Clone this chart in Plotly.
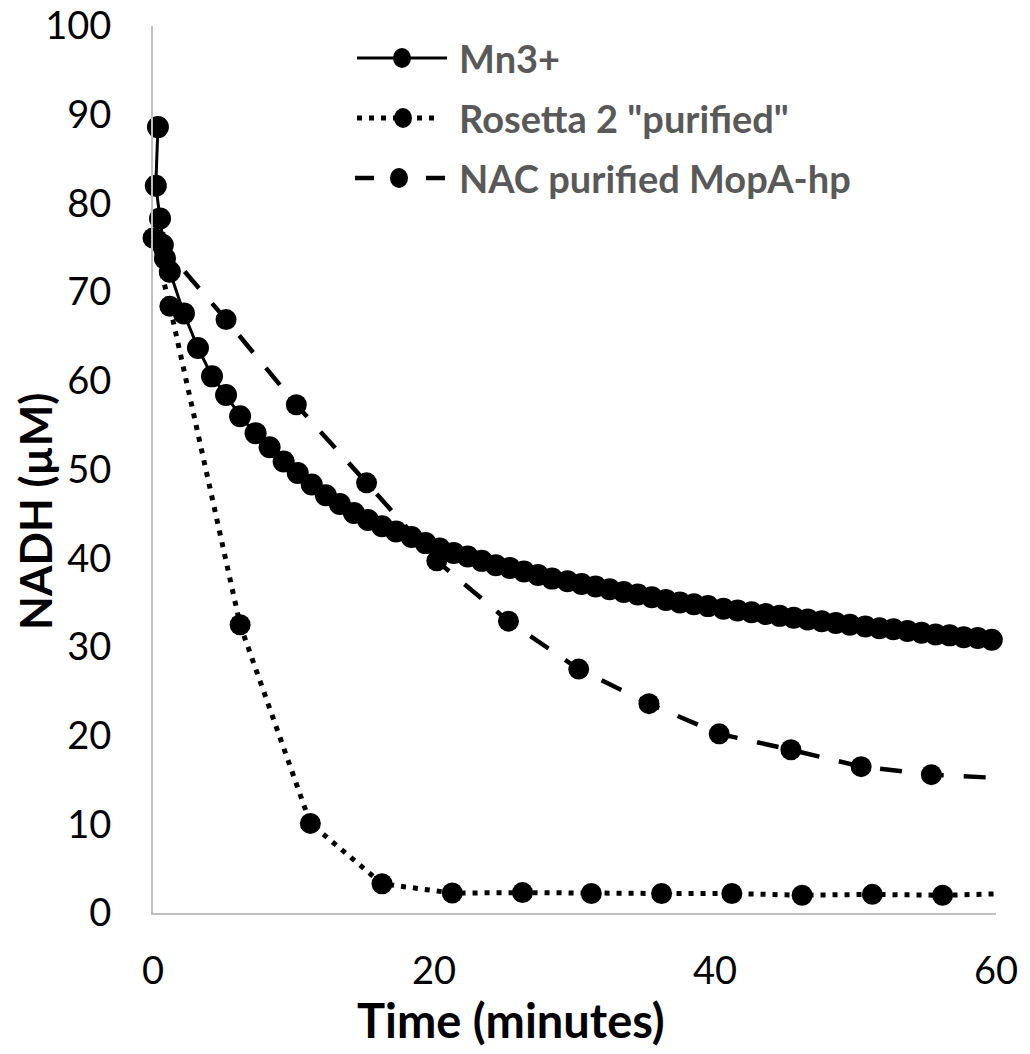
import plotly.graph_objects as go

# values (time in minutes, NADH in µM)
mn_time = [0.35, 0.2, 0.5, 0.7, 0.85,
           1.2, 2.2, 3.2, 4.2, 5.2, 6.2, 7.3, 8.3, 9.3, 10.3, 11.3, 12.3, 13.3, 14.3, 15.3,
           16.3, 17.3, 18.4, 19.4, 20.4, 21.4, 22.4, 23.4, 24.4, 25.4, 26.4, 27.4, 28.4,
           29.5, 30.5, 31.5, 32.5, 33.5, 34.5, 35.5, 36.5, 37.5, 38.5, 39.5, 40.6, 41.6,
           42.6, 43.6, 44.6, 45.6, 46.6, 47.6, 48.6, 49.6, 50.7, 51.7, 52.7, 53.7, 54.7,
           55.7, 56.7, 57.7, 58.7, 59.7]
mn_nadh = [88.6, 82.0, 78.3, 75.3, 73.8,
           72.3, 67.6, 63.7, 60.5, 58.4, 56.0, 54.1, 52.5, 50.9, 49.6, 48.3, 47.1, 46.1, 45.1, 44.3,
           43.6, 43.0, 42.4, 41.7, 41.1, 40.6, 40.2, 39.7, 39.2, 38.9, 38.5, 38.1, 37.7,
           37.4, 37.1, 36.8, 36.5, 36.2, 35.9, 35.6, 35.3, 35.0, 34.8, 34.6, 34.3, 34.1,
           33.9, 33.7, 33.5, 33.3, 33.1, 32.9, 32.7, 32.5, 32.3, 32.1, 32.0, 31.8, 31.6,
           31.4, 31.3, 31.1, 31.0, 30.8]

ros_time = [0.0, 1.2, 6.2, 11.2, 16.3, 21.3, 26.3, 31.2, 36.2, 41.2, 46.2, 51.2, 56.2, 61.2]
ros_nadh = [76.1, 68.4, 32.5, 10.1, 3.3, 2.25, 2.3, 2.2, 2.2, 2.2, 2.0, 2.1, 2.0, 2.2]

nac_time = [0.3, 5.2, 10.2, 15.2, 20.2, 25.3, 30.3, 35.3, 40.3, 45.4, 50.4, 55.4, 60.4]
nac_nadh = [75.9, 66.9, 57.3, 48.5, 39.7, 32.9, 27.5, 23.6, 20.2, 18.4, 16.5, 15.6, 15.2]

series_names = ['Mn3+', 'Rosetta 2 "purified"', 'NAC purified MopA-hp']

X_MAX = 60
FONT = 'Lato'

# the page body has an 8px margin, so the figure is a bit smaller than the window
PAGE_PAD = 8
W, H = 1030 - PAGE_PAD, 1054 - PAGE_PAD
# plot area on screen: x 153..996, y 26..913
SX0, SX1, SY0, SY1 = 153, 996, 26, 913
L, T = SX0 - PAGE_PAD, SY0 - PAGE_PAD
R, B = 1030 - SX1, 1054 - SY1
PW, PH = SX1 - SX0, SY1 - SY0


def px(x):
    return (x - SX0) / PW


def py(y):
    return (SY1 - y) / PH


def visible(times):
    # points past the axis end only carry the line to the edge
    return [1 if t <= X_MAX else 0 for t in times]


fig = go.Figure()
fig.add_trace(go.Scatter(
    x=nac_time, y=nac_nadh, name=series_names[2], mode='lines+markers',
    line=dict(color='black', width=4.5, dash='22px,20px'),
    marker=dict(color='black', size=21, opacity=visible(nac_time)),
    cliponaxis=False
))
fig.add_trace(go.Scatter(
    x=ros_time, y=ros_nadh, name=series_names[1], mode='lines+markers',
    line=dict(color='black', width=5, dash='5px,7px'),
    marker=dict(color='black', size=21, opacity=visible(ros_time)),
    cliponaxis=False
))
fig.add_trace(go.Scatter(
    x=mn_time, y=mn_nadh, name=series_names[0], mode='lines+markers',
    line=dict(color='black', width=3),
    marker=dict(color='black', size=22),
    cliponaxis=False
))

# legend drawn by hand so the line samples are as long as in the original
rows = [58, 118, 178]
shapes = []
annotations = []
samples = [
    [dict(x0=357, x1=447, dash='solid', width=3)],
    [dict(x0=357, x1=440, dash='5px,7px', width=5)],
    [dict(x0=355, x1=374, dash='solid', width=4.5), dict(x0=426, x1=445, dash='solid', width=4.5)],
]
marker_x = [402, 403, 399]
for name, row, segs, mx in zip(series_names, rows, samples, marker_x):
    for s in segs:
        shapes.append(dict(type='line', xref='paper', yref='paper',
                           x0=px(s['x0']), x1=px(s['x1']), y0=py(row), y1=py(row),
                           line=dict(color='black', width=s['width'], dash=s['dash'])))
    shapes.append(dict(type='circle', xref='paper', yref='paper',
                       x0=px(mx - 9), x1=px(mx + 9), y0=py(row + 10), y1=py(row - 10),
                       fillcolor='black', line=dict(color='black', width=0)))
    annotations.append(dict(text=name, xref='paper', yref='paper', x=px(457), y=py(row),
                            xanchor='left', yanchor='middle', showarrow=False,
                            font=dict(family=FONT, size=38, color='#595959', weight='bold')))

# axis titles
annotations.append(dict(text='Time (minutes)', xref='paper', yref='paper', x=px(511), y=py(1020),
                        xanchor='center', yanchor='middle', showarrow=False,
                        font=dict(family=FONT, size=47, color='black', weight='bold')))
annotations.append(dict(text='NADH (µM)', xref='paper', yref='paper', x=px(35), y=py(512),
                        xanchor='center', yanchor='middle', showarrow=False, textangle=-90,
                        font=dict(family=FONT, size=44, color='black', weight='bold')))

axis_style = dict(
    showline=True, linecolor='#bfbfbf', linewidth=2, showgrid=False, zeroline=False,
    ticks='', automargin=False, ticklabeloverflow='allow',
    tickfont=dict(family=FONT, size=38, color='black'),
)

fig.update_layout(
    width=W, height=H,
    margin=dict(l=L, r=R, t=T, b=B),
    paper_bgcolor='white', plot_bgcolor='white',
    showlegend=False,
    shapes=shapes,
    annotations=annotations,
    xaxis=dict(range=[0, X_MAX], dtick=20, ticklabelstandoff=23, **axis_style),
    yaxis=dict(range=[0, 100], dtick=10, ticklabelstandoff=32, **axis_style),
)

fig.write_html('out.html')
